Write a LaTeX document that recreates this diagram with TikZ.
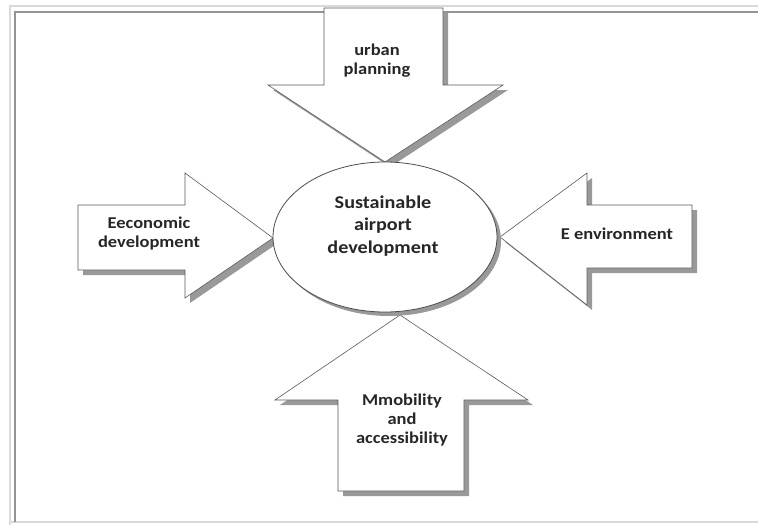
\documentclass[tikz,border=0pt]{standalone}
\usepackage{fontspec}
\newfontfamily\lblfont[FakeStretch=1.12]{Carlito}
\usetikzlibrary{shadows}
\usetikzlibrary{shapes.geometric}

\tikzset{
  blockarrow/.style={fill=white, draw=black!65, line width=.6pt,
    drop shadow={shadow xshift=5pt, shadow yshift=-5pt, fill=black!40, opacity=1}},
  hubstyle/.style={ellipse, fill=white, draw=black!70, line width=.8pt,
    minimum width=224pt, minimum height=150pt, inner sep=0,
    drop shadow={shadow xshift=4pt, shadow yshift=-4pt, fill=black!40, opacity=1}},
  lbl/.style={font=\lblfont\bfseries\fontsize{16.5}{19}\selectfont, align=center, text=black!85, inner sep=0},
  hublbl/.style={lbl, font=\lblfont\bfseries\fontsize{18}{22.5}\selectfont},
}

\begin{document}
\begin{tikzpicture}[x=1pt, y=-1pt]
\useasboundingbox (0,0) rectangle (758,525);
% page frame
\draw[black!15, line width=2pt] (10,525) -- (10,6) -- (758,6);
\draw[black!15, line width=2pt] (10,522) -- (758,522);
\draw[black!42, line width=2pt] (15,522) -- (15,12) -- (758,12);

% the four block arrows
\draw[blockarrow] (324,8) -- (443,8) -- (443,85) -- (503,85) -- (385,162)
  -- (268,85) -- (324,85) -- cycle;
\draw[blockarrow] (78,205) -- (185,205) -- (185,173) -- (273,238) -- (185,298)
  -- (185,270) -- (78,270) -- cycle;
\draw[blockarrow] (692,205) -- (587,205) -- (587,173) -- (500,237) -- (587,305)
  -- (587,268) -- (692,268) -- cycle;
\draw[blockarrow] (338,491) -- (338,400) -- (275,400) -- (400,315) -- (528,400)
  -- (464,400) -- (464,491) -- cycle;

% centre
\node[hubstyle] (hub) at (385,237) {};
\node[hublbl] (hubtext) at (383,226) {Sustainable\\airport\\development};

% arrow labels
\node[lbl] (urban) at (377,61) {urban\\planning};
\node[lbl] (econ) at (149,234) {Eeconomic\\development};
\node[lbl] (env) at (617,234) {E environment};
\node[lbl] (mob) at (402,420) {Mmobility\\and\\accessibility};
\end{tikzpicture}
\end{document}
